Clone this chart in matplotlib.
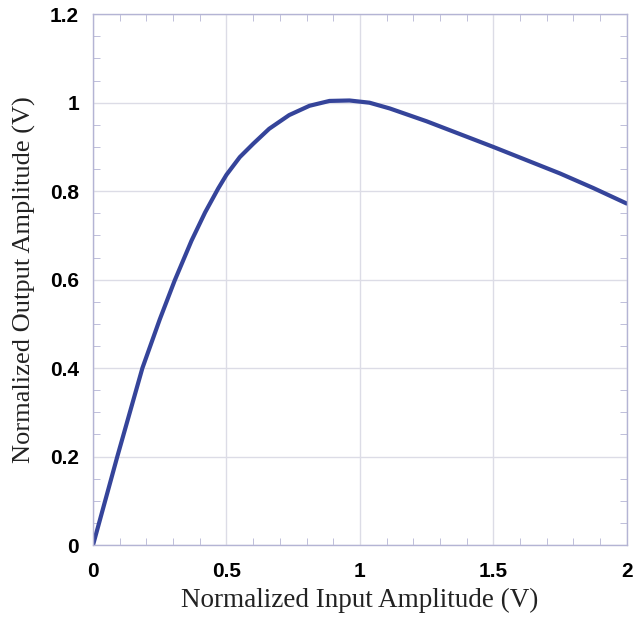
import numpy as np
import matplotlib.pyplot as plt
from matplotlib.ticker import MultipleLocator

# values
x_in = [0.0, 0.091, 0.185, 0.25, 0.306, 0.369, 0.42, 0.469, 0.5, 0.55, 0.6,
        0.66, 0.735, 0.811, 0.886, 0.961, 1.036, 1.112, 1.25, 1.375, 1.5,
        1.625, 1.75, 1.875, 2.0]
y_out = [0.0, 0.2, 0.4, 0.51, 0.598, 0.688, 0.752, 0.806, 0.837, 0.877, 0.907,
         0.941, 0.972, 0.993, 1.004, 1.005, 1.0, 0.987, 0.958, 0.929, 0.900,
         0.870, 0.840, 0.807, 0.772]

xticks = [0, 0.5, 1, 1.5, 2]
xticklabels = ["0", "0.5", "1", "1.5", "2"]
yticks = [0, 0.2, 0.4, 0.6, 0.8, 1, 1.2]
yticklabels = ["0", "0.2", "0.4", "0.6", "0.8", "1", "1.2"]

frame = "#b4b4d4"

fig = plt.figure(figsize=(6.35, 6.19), dpi=100)
ax = fig.add_axes([0.1465, 0.1195, 0.8405, 0.8575])

ax.plot(x_in, y_out, color="#35449a", lw=3, solid_capstyle="round",
        solid_joinstyle="round")

ax.set_xlim(0, 2)
ax.set_ylim(0, 1.2)
ax.set_xticks(xticks)
ax.set_xticklabels(xticklabels)
ax.set_yticks(yticks)
ax.set_yticklabels(yticklabels)
ax.xaxis.set_minor_locator(MultipleLocator(0.1))
ax.yaxis.set_minor_locator(MultipleLocator(0.05))
ax.grid(True, which="major", color="#dcdce6", lw=1)
ax.set_axisbelow(True)

for s in ax.spines.values():
    s.set_color(frame)
    s.set_linewidth(1)

ax.tick_params(which="both", direction="in", color=frame, top=True, right=True)
ax.tick_params(which="major", length=0, pad=12)
ax.tick_params(which="minor", length=5)
for lab in ax.get_xticklabels() + ax.get_yticklabels():
    lab.set_fontfamily("Liberation Sans")
    lab.set_fontweight("bold")
    lab.set_fontsize(15)
ax.tick_params(axis="y", pad=10)

ax.set_xlabel("Normalized Input Amplitude (V)", family="Liberation Serif",
              fontsize=19.5, color="#222222", labelpad=5)
ax.set_ylabel("Normalized Output Amplitude (V)", family="Liberation Serif",
              fontsize=19, color="#222222", labelpad=10)

fig.savefig("out.png", dpi=100)
